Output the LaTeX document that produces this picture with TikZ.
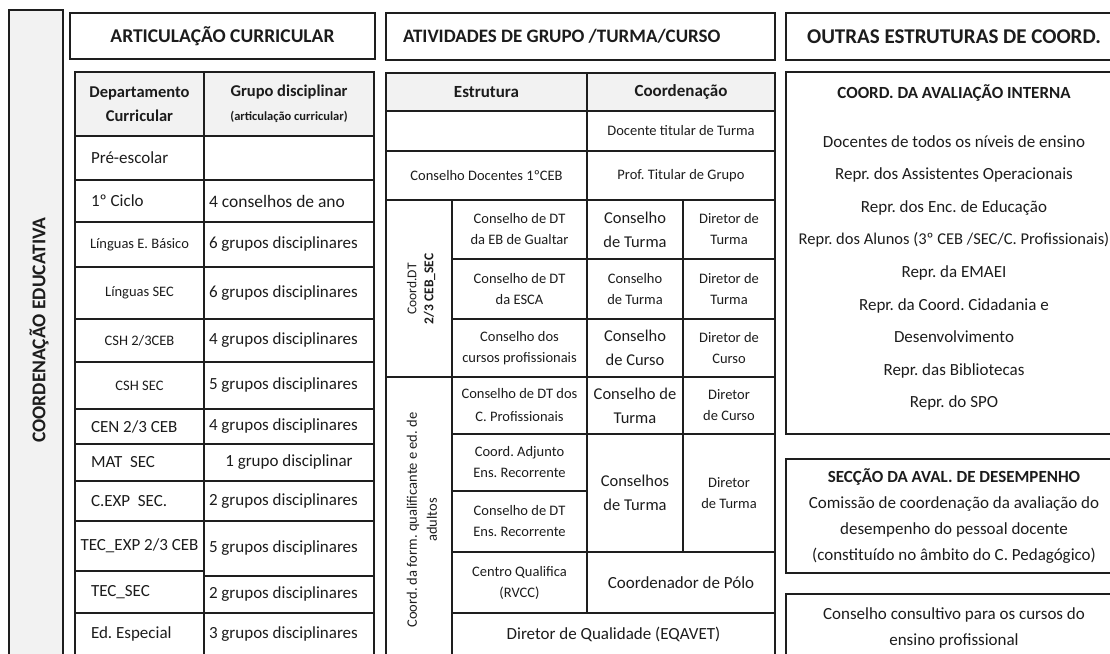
\documentclass[tikz,border=0pt]{standalone}
\usepackage{fontspec}
\setmainfont{Carlito}

\definecolor{linecol}{HTML}{1E1E1E}
\definecolor{inkcol}{HTML}{1C1C1C}
\definecolor{headfill}{HTML}{F2F2F2}

\tikzset{
	cell/.style={draw=linecol, line width=1.2pt, inner sep=0pt, outer sep=0pt, align=center, text=inkcol},
	wh/.style 2 args={minimum width=#1pt, minimum height=#2pt},
	head/.style={font=\bfseries\fontsize{19.5}{23}\selectfont},
	big/.style={font=\fontsize{17}{24}\selectfont},
	mid/.style={font=\fontsize{16.5}{24}\selectfont},
	small/.style={font=\fontsize{14.5}{21}\selectfont},
	leftcol/.style={text width=97pt, align=flush left},
	rightcol/.style={text width=160pt, align=flush left},
	plain/.style={inner sep=0pt, align=center, text=inkcol},
}

\begin{document}
\frenchspacing
\begin{tikzpicture}[x=1pt, y=-1pt]
	\useasboundingbox (0,0) rectangle (1110,653);
	\clip (0,0) rectangle (1110,653);

	% coordenacao educativa
	\node[cell, wh={54}{660}, fill=headfill] (coordedu) at (36,340) {};
	\node[plain, head, rotate=90] (coordedulabel) at (39,330) {COORDENAÇÃO EDUCATIVA};

	% titles
	\begin{scope}[every node/.style={cell, head}]
		\node[wh={305}{46}] (articulacao) at (222.5,36) {ARTICULAÇÃO CURRICULAR};
		\node[wh={389}{47}, font=\bfseries\fontsize{19}{23}\selectfont, text width=355pt, align=flush left] (atividades) at (580.5,36.5) {ATIVIDADES DE GRUPO /TURMA/CURSO};
		\node[wh={336}{47}, font=\bfseries\fontsize{21}{25}\selectfont] (outras) at (954,36.5) {OUTRAS ESTRUTURAS DE COORD.};
	\end{scope}

	% articulacao curricular
	\begin{scope}[every node/.style={cell, big}]
		\node[wh={129}{64}, fill=headfill, font=\bfseries\fontsize{16.5}{24}\selectfont] (depcur) at (139.5,104) {Departamento\\Curricular};
		\node[wh={170}{64}, fill=headfill, font=\bfseries\fontsize{16.5}{24}\selectfont] (grupodisc) at (289,104) {Grupo disciplinar\\{\fontsize{12.5}{15}\selectfont (articulação curricular)}};

		\node[wh={129}{44}, leftcol] (preesc) at (139.5,158) {Pré-escolar};
		\node[wh={170}{44}, rightcol] (preescgr) at (289,158) {};
		\node[wh={129}{42}, leftcol] (ciclo) at (139.5,201) {1º Ciclo};
		\node[wh={170}{42}, rightcol, font=\fontsize{17.5}{24}\selectfont] (ciclogr) at (289,201) {4 conselhos de ano};
		\node[wh={129}{45}, small] (lingeb) at (139.5,244.5) {Línguas E. Básico};
		\node[wh={170}{45}, rightcol] (lingebgr) at (289,244.5) {6 grupos disciplinares};
		\node[wh={129}{52}, small] (lingsec) at (139.5,293) {Línguas SEC};
		\node[wh={170}{52}, rightcol] (lingsecgr) at (289,293) {6 grupos disciplinares};
		\node[wh={129}{43}, small] (cshceb) at (139.5,340.5) {CSH 2/3CEB};
		\node[wh={170}{43}, rightcol] (cshcebgr) at (289,340.5) {4 grupos disciplinares};
		\node[wh={129}{47}, small] (cshsec) at (139.5,385.5) {CSH SEC};
		\node[wh={170}{47}, rightcol] (cshsecgr) at (289,385.5) {5 grupos disciplinares};
		\node[wh={129}{35}, leftcol] (cenceb) at (139.5,426.5) {CEN 2/3 CEB};
		\node[wh={170}{35}, rightcol] (cencebgr) at (289,426.5) {4 grupos disciplinares};
		\node[wh={129}{37}, leftcol] (matsec) at (139.5,462.5) {MAT\ \ SEC};
		\node[wh={170}{37}] (matsecgr) at (289,462.5) {1 grupo disciplinar};
		\node[wh={129}{40}, leftcol] (cexpsec) at (139.5,501) {C.EXP\ \ SEC.};
		\node[wh={170}{40}, rightcol] (cexpsecgr) at (289,501) {2 grupos disciplinares};
		\node[wh={129}{50}] (tecexp) at (139.5,546) {TEC\_EXP 2/3 CEB};
		\node[wh={170}{55}, rightcol] (tecexpgr) at (289,548.5) {5 grupos disciplinares};
		\node[wh={129}{42}, leftcol] (tecsec) at (139.5,592) {TEC\_SEC};
		\node[wh={170}{37}, rightcol] (tecsecgr) at (289,594.5) {2 grupos disciplinares};
		\node[wh={129}{42}, leftcol] (edesp) at (139.5,634) {Ed. Especial};
		\node[wh={170}{42}, rightcol] (edespgr) at (289,634) {3 grupos disciplinares};
	\end{scope}

	% atividades de grupo
	\begin{scope}[every node/.style={cell, small}]
		\node[wh={201}{38}, fill=headfill, font=\bfseries\fontsize{17}{20}\selectfont] (estrutura) at (486.5,92) {Estrutura};
		\node[wh={188}{38}, fill=headfill, font=\bfseries\fontsize{17}{20}\selectfont] (coordenacao) at (681,92) {Coordenação};
		\node[wh={201}{40}] (estvazio) at (486.5,131) {};
		\node[wh={188}{40}] (doctitular) at (681,131) {Docente titular de Turma};
		\node[wh={201}{49}] (consdoc) at (486.5,175.5) {Conselho Docentes 1ºCEB};
		\node[wh={188}{49}] (proftitular) at (681,175.5) {Prof. Titular de Grupo};

		\node[wh={66}{177}] (coorddt) at (419,288.5) {};
		\node[wh={135}{59}] (dtgualtar) at (519.5,229.5) {Conselho de DT\\da EB de Gualtar};
		\node[wh={96}{59}, mid] (ctgualtar) at (635,229.5) {Conselho\\de Turma};
		\node[wh={92}{59}] (dirgualtar) at (729,229.5) {Diretor de\\Turma};
		\node[wh={135}{60}] (dtesca) at (519.5,289) {Conselho de DT\\da ESCA};
		\node[wh={96}{60}] (ctesca) at (635,289) {Conselho\\de Turma};
		\node[wh={92}{60}] (diresca) at (729,289) {Diretor de\\Turma};
		\node[wh={135}{58}] (cursprof) at (519.5,348) {Conselho dos\\cursos profissionais};
		\node[wh={96}{58}, mid] (ccprof) at (635,348) {Conselho\\de Curso};
		\node[wh={92}{58}] (dirprof) at (729,348) {Diretor de\\Curso};

		\node[wh={66}{283}] (formqual) at (419,518.5) {};
		\node[wh={135}{57}, font=\fontsize{14.5}{23}\selectfont] (dtcprof) at (519.5,405.5) {Conselho de DT dos\\C. Profissionais};
		\node[wh={96}{57}, mid] (ctcprof) at (635,405.5) {Conselho de\\Turma};
		\node[wh={92}{57}] (dircprof) at (729,405.5) {Diretor\\de Curso};
		\node[wh={135}{57}] (adjunto) at (519.5,462.5) {Coord. Adjunto\\Ens. Recorrente};
		\node[wh={135}{61}] (dtrecor) at (519.5,521.5) {Conselho de DT\\Ens. Recorrente};
		\node[wh={96}{118}, mid] (ctrecor) at (635,493) {Conselhos\\de Turma};
		\node[wh={92}{118}] (dirrecor) at (729,493) {Diretor\\de Turma};
		\node[wh={135}{61}] (qualifica) at (519.5,582.5) {Centro Qualifica\\(RVCC)};
		\node[wh={188}{61}, big] (polo) at (681,582.5) {Coordenador de Pólo};
		\node[wh={323}{42}, big] (eqavet) at (613.5,634) {Diretor de Qualidade (EQAVET)};
	\end{scope}

	\node[plain, rotate=90, font=\fontsize{13.5}{17}\selectfont] (coorddtlabel) at (421,289) {Coord.DT\\\textbf{2/3 CEB\_SEC}};
	\node[plain, rotate=90, font=\fontsize{14.5}{20}\selectfont] (formquallabel) at (422,520) {Coord. da form. qualificante e ed. de\\adultos};

	% outras estruturas
	\node[cell, wh={336}{362}] (avalint) at (954,253) {};
	\node[plain, font=\bfseries\fontsize{17}{20}\selectfont] (avalinttitle) at (954,93) {COORD. DA AVALIAÇÃO INTERNA};
	\node[plain, anchor=north, font=\fontsize{17}{32.6}\selectfont] (avalintlist) at (954,135) {Docentes de todos os níveis de ensino\\Repr. dos Assistentes Operacionais\\Repr. dos Enc. de Educação\\{\fontsize{16.5}{32.6}\selectfont Repr. dos Alunos (3º CEB /SEC/C. Profissionais)}\\Repr. da EMAEI\\Repr. da Coord. Cidadania e\\Desenvolvimento\\Repr. das Bibliotecas\\Repr. do SPO};

	\node[cell, wh={336}{114}, font=\fontsize{17}{25.7}\selectfont] (desempenho) at (954,516) {\textbf{SECÇÃO DA AVAL. DE DESEMPENHO}\\Comissão de coordenação da avaliação do\\desempenho do pessoal docente\\(constituído no âmbito do C. Pedagógico)};

	\node[cell, wh={336}{86}] (consultivo) at (954,637) {};
	\node[plain, font=\fontsize{17}{26}\selectfont] (consultivotext) at (954,628) {Conselho consultivo para os cursos do\\ensino profissional};
\end{tikzpicture}
\end{document}
